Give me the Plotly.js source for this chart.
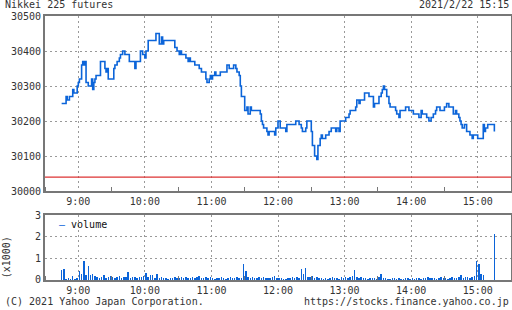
<!DOCTYPE html>
<html>
<head>
<meta charset="utf-8">
<script src="https://cdn.plot.ly/plotly-3.0.1.min.js"></script>
<style>html,body{margin:0;padding:0;background:#fff;}#chart{width:512px;height:310px;}</style>
</head>
<body>
<div id="chart"></div>
<script>
const day = '2021-02-22 ';
const chartTitle = 'Nikkei 225 futures';
const stampText = '2021/2/22 15:15';
const creditText = '(C) 2021 Yahoo Japan Corporation.';
const urlText = 'https://stocks.finance.yahoo.co.jp';
const prevClose = 30040;

const priceTimes = [
 '08:45','08:49','08:50','08:52','08:55','08:56','08:59','09:00','09:01','09:03',
 '09:04','09:05','09:06','09:07','09:09','09:12','09:13','09:14','09:15','09:16',
 '09:20','09:24','09:25','09:26','09:27','09:32','09:33','09:35','09:37','09:38',
 '09:40','09:42','09:46','09:51','09:52','09:56','09:58','10:00','10:01','10:03',
 '10:10','10:13','10:15','10:16','10:17','10:27','10:29','10:31','10:32','10:33',
 '10:37','10:39','10:40','10:41','10:45','10:49','10:51','10:55','10:56','10:58',
 '10:59','11:00','11:01','11:03','11:04','11:08','11:14','11:16','11:20','11:22',
 '11:23','11:25','11:26','11:27','11:30','11:32','11:33','11:35','11:36','11:44',
 '11:45','11:46','11:47','11:50','11:51','11:52','11:57','11:58','12:00','12:02',
 '12:07','12:08','12:16','12:19','12:21','12:22','12:25','12:26','12:30','12:31',
 '12:33','12:35','12:36','12:38','12:39','12:40','12:43','12:46','12:48','12:52',
 '12:53','12:55','12:56','13:01','13:04','13:05','13:10','13:11','13:13','13:14',
 '13:18','13:22','13:26','13:27','13:31','13:33','13:34','13:35','13:36','13:38',
 '13:40','13:41','13:46','13:47','13:49','13:50','13:55','13:58','14:02','14:07',
 '14:09','14:10','14:14','14:16','14:18','14:20','14:22','14:23','14:26','14:30',
 '14:32','14:34','14:38','14:40','14:41','14:43','14:44','14:45','14:46','14:48',
 '14:50','14:53','14:55','14:56','15:00','15:05','15:06','15:07','15:09','15:15'
];
const priceValues = [
 30250,30270,30260,30270,30290,30280,30300,30310,30320,30360,
 30370,30360,30370,30310,30300,30320,30290,30310,30320,30330,
 30370,30350,30340,30350,30320,30350,30360,30370,30380,30390,
 30400,30390,30370,30350,30370,30400,30390,30380,30400,30430,
 30450,30420,30440,30420,30430,30410,30400,30390,30400,30390,
 30380,30370,30380,30370,30360,30350,30340,30320,30310,30320,
 30330,30320,30330,30340,30330,30340,30360,30350,30360,30350,
 30340,30330,30300,30270,30230,30240,30220,30240,30230,30220,
 30200,30190,30180,30170,30160,30170,30160,30180,30200,30180,
 30170,30190,30200,30190,30180,30170,30180,30200,30170,30130,
 30100,30090,30130,30150,30160,30150,30160,30170,30180,30170,
 30180,30170,30200,30210,30220,30230,30240,30260,30250,30260,
 30280,30270,30240,30250,30270,30280,30290,30300,30290,30270,
 30250,30240,30230,30220,30210,30230,30240,30230,30220,30210,
 30230,30220,30210,30200,30210,30220,30230,30240,30230,30240,
 30250,30240,30220,30230,30220,30210,30200,30190,30180,30190,
 30170,30160,30150,30160,30150,30190,30170,30180,30190,30170
];

// volume (x1000), one bar every 2 minutes starting 08:45
const volStart = '08:45';
const volStepMin = 2;
const volValues = [
 0.46,0.51,0.03,0.08,0.05,0.18,0.05,0.08,
 0.43,0.30,0.88,0.22,0.66,0.22,0.28,0.20,0.12,0.10,0.15,0.25,0.10,0.12,0.20,0.15,0.10,0.12,0.18,0.10,0.15,0.12,0.37,0.10,0.15,0.12,0.08,0.15,0.12,0.20,
 0.31,0.15,0.22,0.25,0.10,0.30,0.10,0.12,0.08,0.10,0.06,0.10,0.08,0.12,0.10,0.08,0.15,0.10,0.12,0.08,0.10,0.12,0.08,0.15,0.20,0.10,0.08,0.15,0.10,0.12,
 0.10,0.06,0.08,0.10,0.12,0.08,0.06,0.10,0.12,0.08,0.10,0.15,0.08,0.10,0.74,0.43,0.15,0.10,0.12,0.10,0.08,0.15,0.10,0.12,0.08,0.10,0.08,0.12,0.20,0.10,
 0.08,0.10,0.06,0.05,0.08,0.10,0.12,0.08,0.15,0.10,0.51,0.30,0.57,0.15,0.12,0.20,0.10,0.12,0.08,0.10,0.06,0.08,0.05,0.08,0.12,0.10,0.08,0.06,0.15,0.10,
 0.12,0.10,0.15,0.20,0.46,0.15,0.10,0.12,0.08,0.10,0.06,0.08,0.10,0.08,0.05,0.12,0.30,0.10,0.08,0.06,0.05,0.08,0.10,0.06,0.08,0.05,0.06,0.08,0.10,0.06,
 0.08,0.06,0.10,0.08,0.06,0.10,0.08,0.12,0.10,0.08,0.10,0.06,0.08,0.12,0.10,0.08,0.06,0.10,0.12,0.08,0.10,0.12,0.25,0.10,0.12,0.15,0.10,0.12,0.20,0.88,
 0.75,0.30,0.25,0,0,0,0,2.14
];

const priceTicks = [30000,30100,30200,30300,30400,30500];
const volTicks = [0,1,2,3];

function toX(hm){ return day + hm; }
const volX = volValues.map((v,i)=>{
  const d = new Date(2021,1,22,8,45 + i*volStepMin);
  const hh = String(d.getHours()).padStart(2,'0');
  const mm = String(d.getMinutes()).padStart(2,'0');
  return day + hh + ':' + mm;
});

const blue = '#0b64d9';
const font = 'DejaVu Sans Mono, Liberation Mono, monospace';
const txt = '#333';
const fs = 10;

const traces = [
  {x: priceTimes.map(toX), y: priceValues, type:'scatter', mode:'lines',
   line:{shape:'hv', color:blue, width:1.6}, xaxis:'x', yaxis:'y', showlegend:false, hoverinfo:'skip'},
  {x: volX, y: volValues, type:'bar', marker:{color:blue, line:{width:0}},
   width: 80000, xaxis:'x2', yaxis:'y2', showlegend:false, hoverinfo:'skip'}
];

const xBase = {
  type:'date', range:[day+'08:30', day+'15:30'],
  tick0: day+'09:00', dtick: 3600000, tickformat:'%-H:%M',
  showgrid:true, gridcolor:'#999', griddash:'2px,3px', gridwidth:1,
  showline:true, linecolor:'#777', linewidth:2, mirror:true,
  ticks:'', zeroline:false,
  minor:{tick0: day+'09:30', dtick:3600000, ticks:'inside', ticklen:4, tickcolor:'#777', tickwidth:1, showgrid:false},
  tickfont:{family:font, size:fs, color:txt}, fixedrange:true
};

const layout = {
  width:512, height:310,
  margin:{l:45, r:1, t:16, b:30},
  paper_bgcolor:'#fff', plot_bgcolor:'#fff',
  showlegend:false, bargap:0,
  xaxis: Object.assign({}, xBase, {anchor:'y', domain:[0,1]}),
  xaxis2: Object.assign({}, xBase, {anchor:'y2', domain:[0,1], matches:'x'}),
  yaxis: {domain:[0.337,1], range:[priceTicks[0], priceTicks[priceTicks.length-1]],
    tickvals: priceTicks, ticktext: priceTicks.map(String),
    showgrid:true, gridcolor:'#999', griddash:'2px,3px', gridwidth:1,
    showline:true, linecolor:'#777', linewidth:2, mirror:true, ticks:'', zeroline:false,
    tickfont:{family:font, size:fs, color:txt}, fixedrange:true},
  yaxis2: {domain:[0,0.246], range:[volTicks[0], volTicks[volTicks.length-1]],
    tickvals: volTicks, ticktext: volTicks.map(String),
    showgrid:true, gridcolor:'#999', griddash:'2px,3px', gridwidth:1,
    showline:true, linecolor:'#777', linewidth:2, mirror:true, ticks:'', zeroline:false,
    tickfont:{family:font, size:fs, color:txt}, fixedrange:true},
  shapes:[
    {type:'line', xref:'x domain', yref:'y', x0:0, x1:1, y0:prevClose, y1:prevClose,
     line:{color:'#dd3333', width:1.2}}
  ],
  annotations:[
    {text:chartTitle, xref:'paper', yref:'paper', x:-0.091, y:1.042, xanchor:'left', yanchor:'middle',
     showarrow:false, font:{family:font, size:fs, color:txt}},
    {text:stampText, xref:'paper', yref:'paper', x:1.0, y:1.042, xanchor:'right', yanchor:'middle',
     showarrow:false, font:{family:font, size:fs, color:txt}},
    {text:creditText, xref:'paper', yref:'paper', x:-0.091, y:-0.083, xanchor:'left', yanchor:'middle',
     showarrow:false, font:{family:font, size:fs, color:txt}},
    {text:urlText, xref:'paper', yref:'paper', x:1.0, y:-0.083, xanchor:'right', yanchor:'middle',
     showarrow:false, font:{family:font, size:fs, color:txt}},
    {text:'(x1000)', xref:'paper', yref:'paper', x:-0.082, y:0.085, xanchor:'center', yanchor:'middle',
     textangle:-90, showarrow:false, font:{family:font, size:fs, color:txt}},
    {text:'<span style="color:'+blue+'">\u2014</span> volume', xref:'paper', yref:'paper', x:0.025, y:0.21,
     xanchor:'left', yanchor:'middle', showarrow:false, font:{family:font, size:fs, color:'#111'}}
  ]
};

Plotly.newPlot('chart', traces, layout, {staticPlot:true, displayModeBar:false});
</script>
</body>
</html>
